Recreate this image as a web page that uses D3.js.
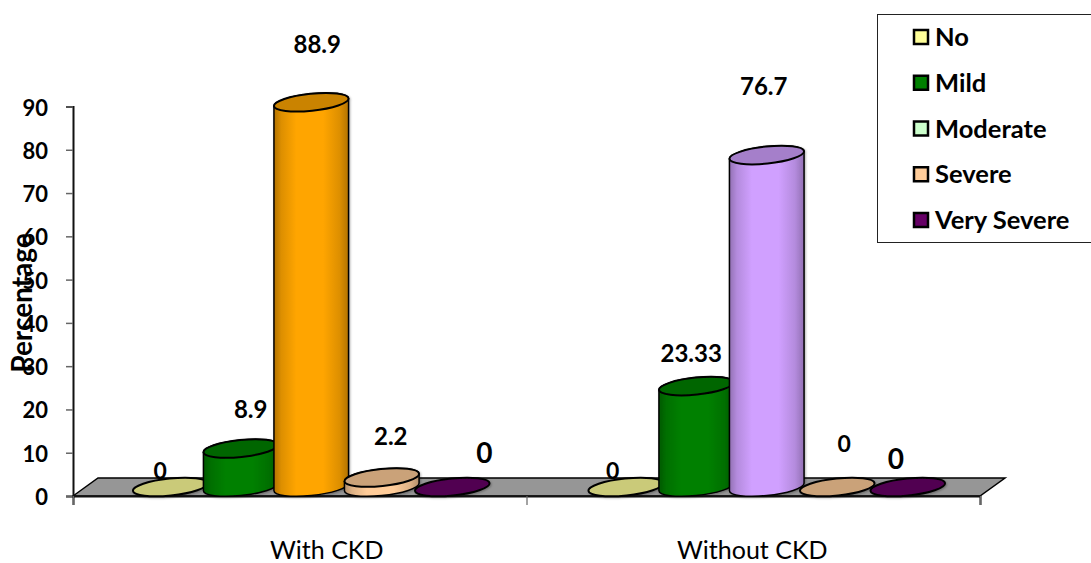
<!DOCTYPE html>
<html>
<head>
<meta charset="utf-8">
<script src="https://cdn.jsdelivr.net/npm/d3@7"></script>
<style>
  html, body { margin: 0; padding: 0; background: #fff; overflow: hidden; }
  text { font-family: Lato, "Open Sans", sans-serif; fill: #000; }
</style>
</head>
<body>
<div id="chart"></div>
<script>
// Data
const groups = ['With CKD', 'Without CKD']
const seriesNames = ['No', 'Mild', 'Moderate', 'Severe', 'Very Severe']
const noValues = [0, 0]
const mildValues = [8.9, 23.33]
const moderateValues = [88.9, 76.7]
const severeValues = [2.2, 0]
const verySevereValues = [0, 0]
const seriesValues = [noValues, mildValues, moderateValues, severeValues, verySevereValues]
const yTicks = [0, 10, 20, 30, 40, 50, 60, 70, 80, 90]

// Styles
const legendColors = ['#FFFF99', '#008000', '#CCFFCC', '#FFCC99', '#660066']
// moderate bars were recoloured by hand in the original, group by group
const moderateBarColors = ['#FFA500', '#D0A0FF']

// hand placed labels: nudge from top of the cylinder, [dx, dy, fontsize]
const labelNudges = [
  [[-10, -17, 23], [-13, -17, 23]],
  [[10, -40, 24], [-5, -34, 24]],
  [[6, -59, 24], [-3, -70, 24]],
  [[9, -42, 24], [7, -44, 23]],
  [[32, -35, 28], [-12, -29, 28]],
]
const groupLabelNudge = [26, -4]

// Dimensions
const dimensions = { width: 1091, height: 563, left: 73, right: 980, top: 106.5, bottom: 496 }
const depth = { x: 25, y: -18 }
const cyl = { a: 37.5, b: 8.5, angle: -6, lift: 9 }

const svg = d3.select('#chart').append('svg')
  .attr('width', dimensions.width)
  .attr('height', dimensions.height)
  .style('display', 'block')

const defs = svg.append('defs')
const shadow = defs.append('filter').attr('id', 'soft')
  .attr('x', '-10%').attr('y', '-10%').attr('width', '125%').attr('height', '125%')
shadow.append('feDropShadow')
  .attr('dx', 1).attr('dy', 1).attr('stdDeviation', 1.2)
  .attr('flood-color', '#000').attr('flood-opacity', 0.3)

// Scales
const yScale = d3.scaleLinear()
  .domain([0, 90])
  .range([dimensions.bottom, dimensions.top])

const xGroup = d3.scaleBand()
  .domain(groups)
  .range([dimensions.left, 984])

const xSeries = d3.scaleBand()
  .domain(seriesNames)
  .range([0, xGroup.bandwidth()])
  .paddingOuter(0.73)

const xTicksScale = d3.scalePoint()
  .domain([0, 1, 2])
  .range([dimensions.left, dimensions.right])

const barCenter = (groupIdx, seriesIdx) =>
  xGroup(groups[groupIdx]) + xSeries(seriesNames[seriesIdx]) + xSeries.bandwidth() / 2 + 10.5

// Floor
const floorX = [xTicksScale(0), xTicksScale(0) + depth.x, xTicksScale(2) + depth.x, xTicksScale(2)]
const floorY = [yScale(0), yScale(0) + depth.y, yScale(0) + depth.y, yScale(0)]
svg.append('path')
  .attr('d', d3.line()(floorX.map((x, i) => [x, floorY[i]])) + 'Z')
  .attr('fill', '#969696')
  .attr('stroke', '#000')
  .attr('stroke-width', 1.5)

// Axes
const yAxis = d3.axisLeft(yScale)
  .tickValues(yTicks)
  .tickSize(7)
  .tickPadding(18)
  .tickFormat(d3.format('d'))

const xAxis = d3.axisBottom(xTicksScale)
  .tickSize(9)
  .tickFormat('')

const yG = svg.append('g')
  .attr('transform', `translate(${dimensions.left}, 0)`)
  .call(yAxis)
yG.select('.domain').attr('stroke', '#111').attr('stroke-width', 2)
yG.selectAll('.tick line').attr('stroke', '#666').attr('stroke-width', 1.5)
yG.selectAll('.tick text')
  .attr('y', 1.5)
  .attr('font-size', 22)
  .attr('font-weight', 700)
  .style('font-family', 'Lato')

const xG = svg.append('g')
  .attr('transform', `translate(0, ${dimensions.bottom})`)
  .call(xAxis)
xG.select('.domain').attr('stroke', '#111').attr('stroke-width', 2)
xG.selectAll('.tick line').attr('stroke', '#666').attr('stroke-width', 1.2)

// Cylinders
const rad = cyl.angle * Math.PI / 180
const extX = Math.sqrt(cyl.a ** 2 * Math.cos(rad) ** 2 + cyl.b ** 2 * Math.sin(rad) ** 2)
const extY = (cyl.a ** 2 - cyl.b ** 2) * Math.sin(rad) * Math.cos(rad) / extX

function gradientFor(color, id) {
  const base = d3.color(color)
  const g = defs.append('linearGradient').attr('id', id)
    .attr('x1', 0).attr('x2', 1).attr('y1', 0).attr('y2', 0)
  const dark = base.darker(1).formatHex()
  const mid = base.darker(0.4).formatHex()
  const stops = [[0, dark], [0.1, mid], [0.3, color], [0.66, color], [0.88, mid], [1, dark]]
  stops.forEach(s => g.append('stop').attr('offset', s[0]).attr('stop-color', s[1]))
  return `url(#${id})`
}

const barsLayer = svg.append('g')

seriesNames.forEach((name, s) => {
  groups.forEach((group, g) => {
    const value = seriesValues[s][g]
    const color = s === 2 ? moderateBarColors[g] : legendColors[s]
    const cx = barCenter(g, s)
    const baseY = yScale(0) - cyl.lift
    const topY = yScale(value) - cyl.lift
    const bar = barsLayer.append('g').attr('filter', 'url(#soft)')

    if (value > 0) {
      const body = `M${cx - extX},${topY - extY}`
        + `L${cx - extX},${baseY - extY}`
        + `A${cyl.a},${cyl.b} ${cyl.angle} 0 0 ${cx + extX},${baseY + extY}`
        + `L${cx + extX},${topY + extY}`
        + `A${cyl.a},${cyl.b} ${cyl.angle} 0 0 ${cx - extX},${topY - extY}Z`
      bar.append('path')
        .attr('d', body)
        .attr('fill', gradientFor(color, `grad-${s}-${g}`))
        .attr('stroke', '#000')
        .attr('stroke-width', 1.5)
    }

    bar.append('ellipse')
      .attr('cx', cx)
      .attr('cy', topY)
      .attr('rx', cyl.a)
      .attr('ry', cyl.b)
      .attr('transform', `rotate(${cyl.angle} ${cx} ${topY})`)
      .attr('fill', d3.rgb(color).darker(0.65).formatHex())
      .attr('stroke', '#000')
      .attr('stroke-width', 2)
  })
})

// Value labels
seriesNames.forEach((name, s) => {
  groups.forEach((group, g) => {
    const value = seriesValues[s][g]
    const nudge = labelNudges[s][g]
    svg.append('text')
      .attr('x', barCenter(g, s) + nudge[0])
      .attr('y', yScale(value) - cyl.lift + nudge[1])
      .attr('text-anchor', 'middle')
      .attr('dominant-baseline', 'central')
      .attr('font-size', nudge[2])
      .attr('font-weight', 700)
      .text(value)
  })
})

// Group labels
groups.forEach((group, g) => {
  svg.append('text')
    .attr('x', xGroup(group) + xGroup.bandwidth() / 2 + groupLabelNudge[g])
    .attr('y', 549)
    .attr('text-anchor', 'middle')
    .attr('dominant-baseline', 'central')
    .attr('font-size', 25)
    .text(group)
})

// Axis title
svg.append('text')
  .attr('transform', 'translate(21, 303) rotate(-90)')
  .attr('text-anchor', 'middle')
  .attr('dominant-baseline', 'central')
  .attr('font-size', 28)
  .attr('font-weight', 700)
  .text('Percentage')

// Legend
svg.append('rect')
  .attr('x', 877.5).attr('y', 14.5)
  .attr('width', 220).attr('height', 228)
  .attr('fill', '#fff')
  .attr('stroke', '#222')
  .attr('stroke-width', 1)

const legendY = d3.scalePoint()
  .domain(seriesNames)
  .range([37, 220])

const legendRow = svg.selectAll('.legend-row')
  .data(seriesNames)
  .join('g')
  .attr('class', 'legend-row')
  .attr('transform', d => `translate(913, ${legendY(d)})`)

legendRow.append('rect')
  .attr('x', 1).attr('y', -7)
  .attr('width', 14).attr('height', 14)
  .attr('fill', (d, i) => legendColors[i])
  .attr('stroke', '#000')
  .attr('stroke-width', 2.5)

legendRow.append('text')
  .attr('x', 22)
  .attr('y', -1)
  .attr('dominant-baseline', 'central')
  .attr('font-size', 25.5)
  .attr('font-weight', 700)
  .text(d => d)
</script>
</body>
</html>
